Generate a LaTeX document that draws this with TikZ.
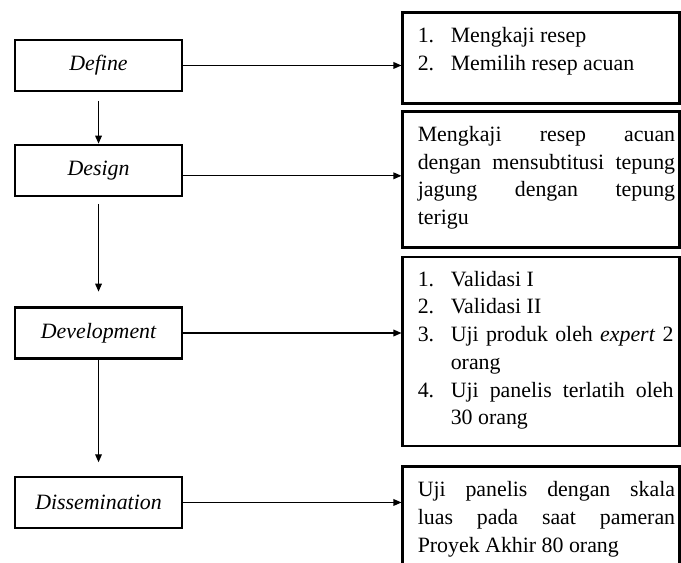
\documentclass[tikz,border=0pt]{standalone}
\usepackage{fontspec}
\setmainfont{Liberation Serif}
\usepackage{tikz}
\usetikzlibrary{arrows.meta, positioning}

\newcommand{\numitem}[2]{\makebox[24.75pt][l]{#1}#2}
\newcommand{\spreadto}[2]{\makebox[#1][s]{#2}}
\newcommand{\notetext}[1]{\parbox[t]{201.75pt}{\fontsize{16.4}{20.8}\selectfont\leftskip=8.25pt #1}}

\begin{document}
\begin{tikzpicture}[
    stagebox/.style={rectangle, draw, line width=2pt, minimum width=125.25pt, minimum height=38.25pt, inner sep=0pt, font=\fontsize{16.4}{20}\selectfont\itshape},
    notebox/.style={rectangle, draw, line width=2pt, inner xsep=3pt, inner ysep=0pt, text height=22.5pt},
    arrow/.style={-{Triangle[length=6pt,width=5pt]}, line width=0.9pt}
]
\useasboundingbox (0,0) rectangle (510.75pt,421.5pt);

% tahap 4-D
\node[stagebox] (define) at (73.9pt,372.4pt) {Define};
\node[stagebox, on grid, below=78.75pt of define] (design) {Design};
\node[stagebox, on grid, below=121.9pt of design] (develop) {Development};
\node[stagebox, on grid, below=127.1pt of develop] (dissem) {Dissemination};

% kegiatan tiap tahap
\node[notebox, text depth=45.75pt, anchor=north west] (defnote) at (301.1pt,412.9pt) {\notetext{%
    \numitem{1.}{Mengkaji resep}\\
    \numitem{2.}{Memilih resep acuan}}};
\node[notebox, text depth=79.5pt, below=3.75pt of defnote] (desnote) {\notetext{%
    \spreadto{193pt}{Mengkaji resep acuan}\\
    \spreadto{193pt}{dengan mensubtitusi tepung}\\
    \spreadto{193pt}{jagung dengan tepung}\\
    terigu}};
\node[notebox, text height=21.75pt, text depth=120pt, below=5.25pt of desnote] (devnote) {\notetext{%
    \numitem{1.}{Validasi I}\\
    \numitem{2.}{Validasi II}\\
    \numitem{3.}{\spreadto{167pt}{Uji produk oleh \emph{expert} 2}}\\
    \hspace*{24.75pt}orang\\
    \numitem{4.}{\spreadto{167pt}{Uji panelis terlatih oleh}}\\
    \hspace*{24.75pt}30 orang}};
\node[notebox, text depth=60pt, below=13.5pt of devnote] (disnote) {\notetext{%
    \spreadto{193pt}{Uji panelis dengan skala}\\
    \spreadto{193pt}{luas pada saat pameran}\\
    Proyek Akhir 80 orang}};

\draw[arrow] (define) -- (define -| defnote.west);
\draw[arrow] ([yshift=-4pt]design.east) -- ([yshift=-4pt]design.east -| desnote.west);
\draw[arrow] (develop) -- (develop -| devnote.west);
\draw[arrow] (dissem) -- (dissem -| disnote.west);

\draw[arrow, shorten <=6.4pt] (define) -- (design);
\draw[arrow, shorten <=4.9pt, shorten >=10.9pt] (design) -- (develop);
\draw[arrow, shorten >=10pt] (develop) -- (dissem);

\end{tikzpicture}
\end{document}
